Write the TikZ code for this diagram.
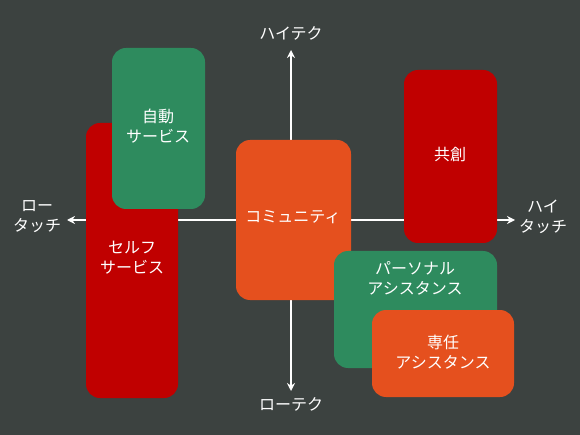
\documentclass[tikz,border=0pt]{standalone}
\usepackage{fontspec}
\setmainfont{Noto Sans CJK JP}
\usetikzlibrary{arrows.meta}
\definecolor{bg}{RGB}{60,66,64}
\definecolor{cred}{RGB}{192,0,0}
\definecolor{cgreen}{RGB}{46,139,94}
\definecolor{corange}{RGB}{229,80,30}
\begin{document}
\begin{tikzpicture}[x=1pt,y=-1pt,
  box/.style={rounded corners=14pt,inner sep=0pt},
  lbl/.style={text=white,font=\fontsize{16}{20}\selectfont,align=center},
  axis/.style={draw=white,line width=2.2pt,-{Stealth[length=8pt,width=8pt]}}]
\fill[bg] (0,0) rectangle (580,435);
\useasboundingbox (0,0) rectangle (580,435);
\coordinate (c) at (291,220);
\coordinate (up) at (291,50);
\coordinate (dn) at (291,391);
\coordinate (lt) at (67,220);
\coordinate (rt) at (515,220);
\draw[axis] (c) -- (up);
\draw[axis] (c) -- (dn);
\draw[axis] (c) -- (lt);
\draw[axis] (c) -- (rt);
\node[lbl] (hitech) at (291,33) {ハイテク};
\node[lbl] (lotech) at (291,404) {ローテク};
\node[lbl] (lotouch) at (37,217) {ロー\\タッチ};
\node[lbl] (hitouch) at (543,217) {ハイ\\タッチ};
\fill[cred,box] (86,123) rectangle (178,398);
\node[lbl] (self) at (132,258) {セルフ\\サービス};
\fill[cgreen,box] (112,48) rectangle (205,209);
\node[lbl] (auto) at (158,126) {自動\\サービス};
\fill[corange,box] (236,140) rectangle (351,300);
\node[lbl] (comm) at (293,217) {コミュニティ};
\fill[cred,box] (404,70) rectangle (497,243);
\node[lbl] (kyoso) at (450,155) {共創};
\fill[cgreen,box] (334,251) rectangle (497,368);
\node[lbl] (pers) at (415,278) {パーソナル\\アシスタンス};
\fill[corange,box] (372,310) rectangle (514,397);
\node[lbl] (senin) at (443,352) {専任\\アシスタンス};
\end{tikzpicture}
\end{document}
